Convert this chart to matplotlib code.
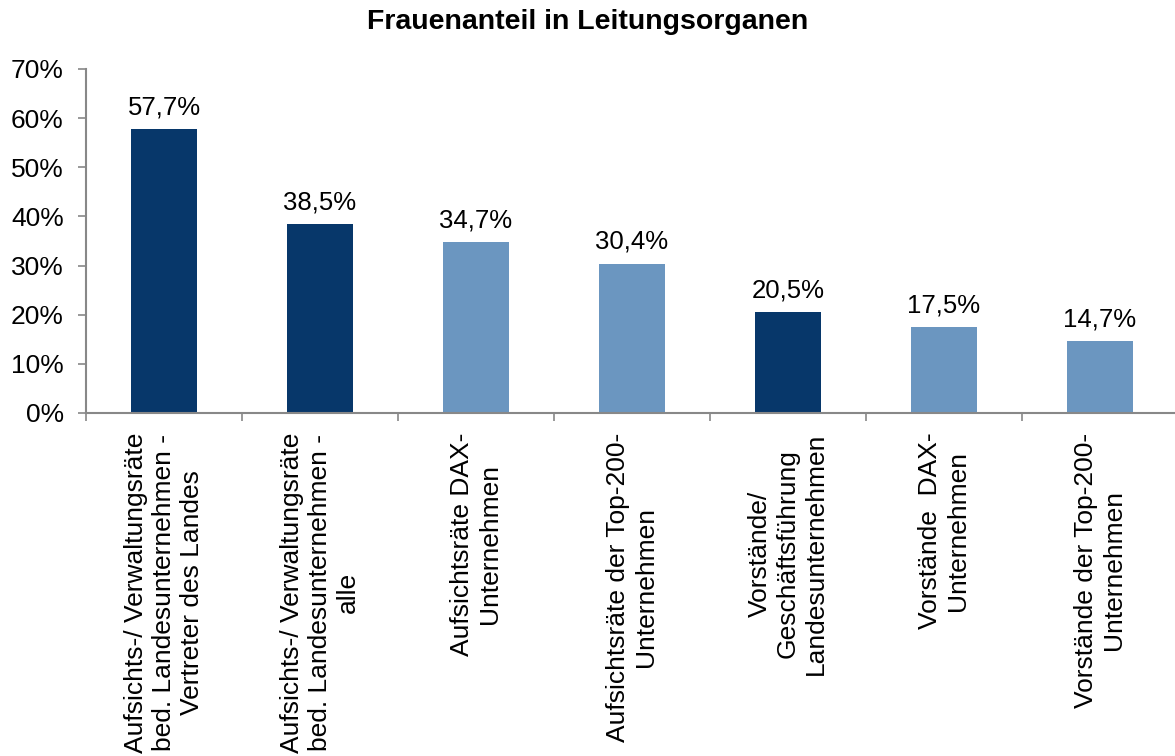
import matplotlib
matplotlib.use("Agg")
import matplotlib.pyplot as plt
import numpy as np

plt.rcParams['font.family'] = ['Liberation Sans', 'DejaVu Sans']

# Daten
kategorien = [
    "Aufsichts-/ Verwaltungsräte\nbed. Landesunternehmen -\nVertreter des Landes",
    "Aufsichts-/ Verwaltungsräte\nbed. Landesunternehmen -\nalle",
    "Aufsichtsräte DAX-\nUnternehmen",
    "Aufsichtsräte der Top-200-\nUnternehmen",
    "Vorstände/\nGeschäftsführung\nLandesunternehmen",
    "Vorstände  DAX-\nUnternehmen",
    "Vorstände der Top-200-\nUnternehmen",
]
werte = [57.7, 38.5, 34.7, 30.4, 20.5, 17.5, 14.7]
landes = [True, True, False, False, True, False, False]
y_ticks = [0, 10, 20, 30, 40, 50, 60, 70]

dunkel = "#07376A"
hell = "#6B96C0"
grau = "#888888"

fig = plt.figure(figsize=(11.75, 7.56), dpi=100)
ax = fig.add_axes([86 / 1175, 343 / 756, 1092 / 1175, 344 / 756])

x = np.arange(len(werte))
farben = [dunkel if l else hell for l in landes]
bars = ax.bar(x, werte, width=0.42, color=farben, zorder=2)

for b, v in zip(bars, werte):
    ax.annotate(f"{v:.1f}%".replace(".", ","),
                (b.get_x() + b.get_width() / 2, b.get_height()),
                xytext=(0, 7), textcoords="offset points",
                ha="center", va="bottom", fontsize=18.5)

ax.set_xlim(-0.5, len(werte) - 0.5)
ax.set_ylim(0, 70)
ax.set_yticks(y_ticks)
ax.set_yticklabels([f"{t}%" for t in y_ticks], fontsize=19)

ax.set_xticks(x)
ax.set_xticklabels(kategorien, rotation=90, fontsize=19,
                   multialignment="center", linespacing=1.2)
ax.set_xticks(np.arange(len(werte) + 1) - 0.5, minor=True)
ax.tick_params(axis="x", which="major", length=0, pad=14)
ax.tick_params(axis="x", which="minor", length=6, width=1.2, color=grau)
ax.tick_params(axis="y", length=6, width=1.2, color=grau, pad=10)

for s in ["top", "right"]:
    ax.spines[s].set_visible(False)
for s in ["left", "bottom"]:
    ax.spines[s].set_color(grau)
    ax.spines[s].set_linewidth(1.5)

fig.text(0.5, 1 - 22 / 756, "Frauenanteil in Leitungsorganen",
         ha="center", va="center", fontsize=20.5, fontweight="bold")

fig.savefig("out.png", dpi=100)
